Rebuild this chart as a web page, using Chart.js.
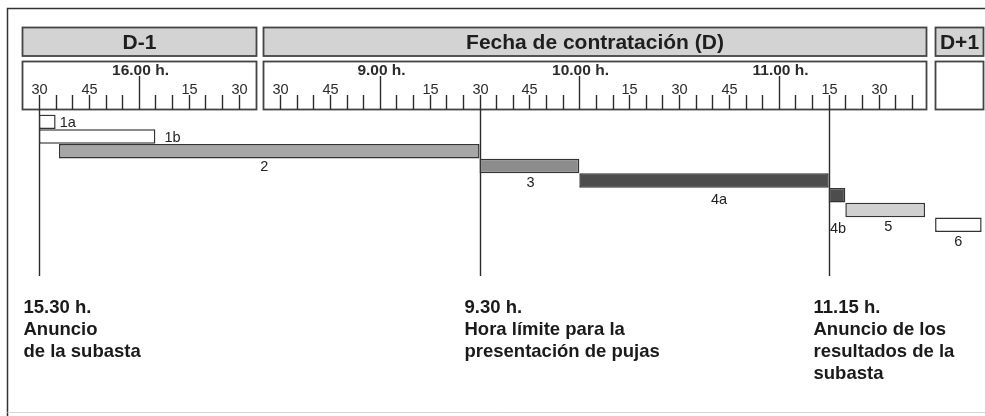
<!DOCTYPE html>
<html lang="es">
<head>
<meta charset="UTF-8">
<title>Calendario de la subasta</title>
<script src="https://cdn.jsdelivr.net/npm/chart.js"></script>
<style>
  body { margin: 0; background: #fff; }
  #wrap { width: 985px; height: 416px; position: relative; }
</style>
</head>
<body>
<div id="wrap"><canvas id="timeline"></canvas></div>
<script>
// Bars: each one starts and ends at a clock time on a given day
const rowNames = ['1a', '1b', '2', '3', '4a', '4b', '5', '6'];
const startDay = ['D-1', 'D-1', 'D-1', 'D', 'D', 'D', 'D', 'D+1'];
const startTime = ['15.30', '15.30', '15.36', '9.30', '10.00', '11.15', '11.20', '8.30'];
const endDay = ['D-1', 'D-1', 'D', 'D', 'D', 'D', 'D', 'D+1'];
const endTime = ['15.35', '16.05', '9.30', '10.00', '11.15', '11.20', '11.44', '8.44'];

// Day panels and their rulers
const dayKeys = ['D-1', 'D', 'D+1'];
const dayTitles = ['D-1', 'Fecha de contratación (D)', 'D+1'];
const panelFrom = ['15.25', '8.25', '8.30'];
const panelTo = ['16.35', '11.44', '8.44'];
const rulerFrom = ['15.30', '8.30', null];
const rulerTo = ['16.30', '11.40', null];

// Key moments
const markerDay = ['D-1', 'D', 'D'];
const markerTime = ['15.30', '9.30', '11.15'];
const markerText = [
  ['15.30 h.', 'Anuncio', 'de la subasta'],
  ['9.30 h.', 'Hora límite para la', 'presentación de pujas'],
  ['11.15 h.', 'Anuncio de los', 'resultados de la', 'subasta']
];

// styling
const barColors = ['#ffffff', '#ffffff', '#a6a6a6', '#8c8c8c', '#4d4d4d', '#4d4d4d', '#d0d0d0', '#ffffff'];
// label placement: side, dx, dy (px)
const labelPlace = [
  ['right', 4, 0], ['right', 9, 0], ['below', -5, 9], ['below', 1, 10],
  ['below', 15, 12], ['below', 1, 26], ['below', 3, 10], ['below', 0, 10]
];

// the time axis is compressed: nights between days are cut out
const dayOffset = { 'D-1': -930, 'D': 72.5 - 510, 'D+1': 269.5 - 510 };
const pxPerMin = 3.325;
const axisMin = -39 / pxPerMin;
const axisMax = axisMin + 985 / pxPerMin;

function toMin(t) {
  const [h, m] = t.split('.').map(Number);
  return h * 60 + m;
}
function axisVal(day, t) {
  return toMin(t) + dayOffset[day];
}

const ink = '#2b2b2b';
const sans = "'Liberation Sans', Arial, Helvetica, sans-serif";

const diagram = {
  id: 'diagram',
  beforeDraw(chart) {
    const ctx = chart.ctx;
    const x = chart.scales.x;
    const px = (d, t) => x.getPixelForValue(axisVal(d, t));
    ctx.save();
    ctx.fillStyle = '#fff';
    ctx.fillRect(0, 0, chart.width, chart.height);

    // outer frame
    ctx.strokeStyle = '#333';
    ctx.lineWidth = 1.5;
    ctx.beginPath();
    ctx.moveTo(7.5, 416);
    ctx.lineTo(7.5, 8.5);
    ctx.lineTo(990, 8.5);
    ctx.stroke();
    ctx.strokeStyle = '#d4d4d4';
    ctx.lineWidth = 1;
    ctx.beginPath();
    ctx.moveTo(7.5, 412.5);
    ctx.lineTo(985, 412.5);
    ctx.stroke();

    dayKeys.forEach((day, i) => {
      const x0 = Math.round(px(day, panelFrom[i])) + 0.5;
      const x1 = Math.round(px(day, panelTo[i])) + 1.5;
      // title box
      ctx.fillStyle = '#d3d3d3';
      ctx.fillRect(x0, 27.5, x1 - x0, 28.5);
      ctx.strokeStyle = '#444';
      ctx.lineWidth = 1.8;
      ctx.strokeRect(x0, 27.5, x1 - x0, 28.5);
      ctx.fillStyle = '#1e1e1e';
      ctx.font = 'bold 21px ' + sans;
      ctx.textAlign = 'center';
      ctx.textBaseline = 'alphabetic';
      ctx.fillText(dayTitles[i], (x0 + x1) / 2, 49);
      // ruler box
      ctx.strokeRect(x0, 61.5, x1 - x0, 48);

      if (!rulerFrom[i]) return;
      ctx.strokeStyle = ink;
      ctx.lineWidth = 1.4;
      for (let m = toMin(rulerFrom[i]); m <= toMin(rulerTo[i]); m += 5) {
        const hh = Math.floor(m / 60), mm = m % 60;
        const tx = Math.round(px(day, hh + '.' + mm)) + 0.5;
        const top = mm === 0 ? 76 : 95;
        ctx.beginPath();
        ctx.moveTo(tx, top);
        ctx.lineTo(tx, 109.5);
        ctx.stroke();
        ctx.fillStyle = ink;
        if (mm === 0) {
          ctx.font = 'bold 15.5px ' + sans;
          ctx.fillText(hh + '.00 h.', tx + 1, 75);
        } else if (mm % 15 === 0) {
          ctx.font = '14.5px ' + sans;
          ctx.fillText(String(mm), tx, 94);
        }
      }
    });

    // key moment lines and captions
    markerDay.forEach((day, i) => {
      const mx = Math.round(px(day, markerTime[i])) + 0.5;
      ctx.strokeStyle = ink;
      ctx.lineWidth = 1.4;
      ctx.beginPath();
      ctx.moveTo(mx, 109.5);
      ctx.lineTo(mx, 276);
      ctx.stroke();
      ctx.fillStyle = '#1a1a1a';
      ctx.font = 'bold 18.5px ' + sans;
      ctx.textAlign = 'left';
      markerText[i].forEach((line, j) => {
        ctx.fillText(line, mx - 16, 313 + j * 22);
      });
    });
    ctx.restore();
  },
  afterDatasetsDraw(chart) {
    const ctx = chart.ctx;
    const bars = chart.getDatasetMeta(0).data;
    ctx.save();
    ctx.fillStyle = '#222';
    ctx.font = '14.5px ' + sans;
    bars.forEach((bar, i) => {
      const [side, dx, dy] = labelPlace[i];
      const right = Math.max(bar.x, bar.base);
      const left = Math.min(bar.x, bar.base);
      const bottom = bar.y + bar.height / 2;
      if (side === 'right') {
        ctx.textAlign = 'left';
        ctx.textBaseline = 'middle';
        ctx.fillText(rowNames[i], right + dx, bar.y + dy + 1);
      } else {
        ctx.textAlign = 'center';
        ctx.textBaseline = 'middle';
        ctx.fillText(rowNames[i], (left + right) / 2 + dx, bottom + dy);
      }
    });
    ctx.restore();
  }
};

const spans = rowNames.map((_, i) => [
  axisVal(startDay[i], startTime[i]),
  axisVal(endDay[i], endTime[i])
]);

new Chart(document.getElementById('timeline'), {
  type: 'bar',
  data: {
    labels: rowNames,
    datasets: [{
      data: spans,
      backgroundColor: barColors,
      borderColor: '#333',
      borderWidth: 1.5,
      borderSkipped: false,
      barPercentage: 1,
      categoryPercentage: 0.99
    }]
  },
  options: {
    indexAxis: 'y',
    responsive: true,
    maintainAspectRatio: false,
    animation: false,
    layout: { padding: { top: 114.5, bottom: 184, left: 0, right: 0 } },
    scales: {
      x: { type: 'linear', display: false, min: axisMin, max: axisMax },
      y: { display: false }
    },
    plugins: {
      legend: { display: false },
      tooltip: { enabled: false }
    }
  },
  plugins: [diagram]
});
</script>
</body>
</html>
